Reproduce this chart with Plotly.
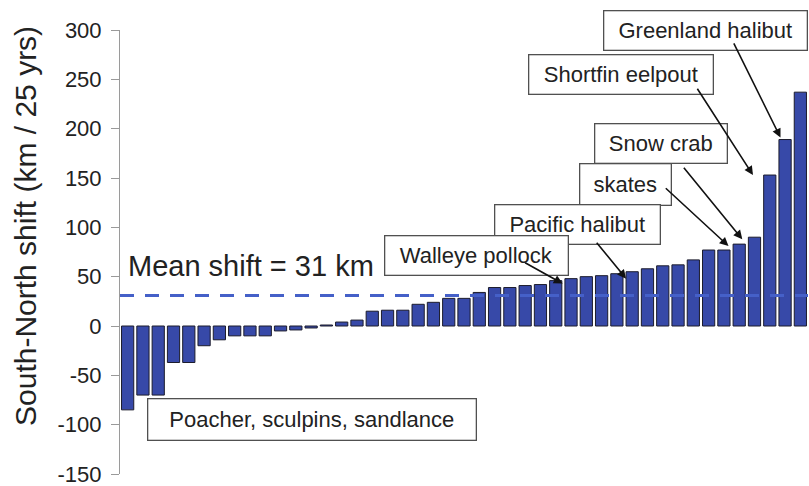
import plotly.graph_objects as go

# South-north shift of each taxon over 25 years (km), sorted ascending
shift_km = [-85, -70, -70, -37, -37, -20, -14, -10, -10, -10, -5, -4, -2, 1, 4,
            6, 15, 16, 16, 22, 24, 28, 28, 34, 39, 39, 41, 42, 46, 48,
            50, 51, 53, 55, 58, 61, 62, 67, 77, 77, 83, 90, 153, 189, 237]
mean_shift = 31
y_ticks = [-150, -100, -50, 0, 50, 100, 150, 200, 250, 300]

FONT = "Liberation Sans, Arial, sans-serif"
TXT = "#222222"

# Plot-area geometry in pixels (used to place the label boxes)
W, H = 809, 486
L, R, T, B = 120, 1, 30, 12
PW, PH = W - L - R, H - T - B


def px_to_paper(px, py):
    return (px - L) / PW, (H - B - py) / PH


n = len(shift_km)
idx = list(range(n))

fig = go.Figure()
fig.add_trace(go.Bar(
    x=idx, y=shift_km, width=0.8,
    marker=dict(color="#3749a8", line=dict(color="#1c1c2c", width=1)),
    hoverinfo="y",
))
fig.add_trace(go.Scatter(
    x=[-0.5, n - 0.5], y=[mean_shift, mean_shift], mode="lines",
    line=dict(color="#4560c8", width=3, dash="14px,11px"),
    hoverinfo="skip",
))

annotations = []

# y-axis title
tx, ty = px_to_paper(25, 226)
annotations.append(dict(
    text="South-North shift (km / 25 yrs)", xref="paper", yref="paper",
    x=tx, y=ty, textangle=-90, showarrow=False, xanchor="center", yanchor="middle",
    font=dict(family=FONT, size=30, color=TXT),
))

# mean-shift caption
mx, my = px_to_paper(126, 266)
annotations.append(dict(
    text=f"Mean shift = {mean_shift} km", xref="paper", yref="paper",
    x=mx, y=my, showarrow=False, xanchor="left", yanchor="middle",
    font=dict(family=FONT, size=29, color=TXT),
))

# boxed labels: (text, centre x, centre y, width, height) in pixels
boxes = [
    ("Greenland halibut", 705, 30, 204, 40),
    ("Shortfin eelpout", 620.5, 75, 185, 40),
    ("Snow crab", 660.5, 143, 133, 40),
    ("skates", 625, 184, 92, 42),
    ("Pacific halibut", 577, 225, 166, 40),
    ("Walleye pollock", 476, 255, 184, 40),
    ("Poacher, sculpins, sandlance", 311.5, 419, 329, 42),
]
for text, cx, cy, bw, bh in boxes:
    bx, by = px_to_paper(cx, cy)
    annotations.append(dict(
        text=text, xref="paper", yref="paper", x=bx, y=by,
        xanchor="center", yanchor="middle", showarrow=False,
        width=bw - 2, height=bh - 2, borderpad=0, borderwidth=1.3,
        bordercolor="#505050", bgcolor="white",
        font=dict(family=FONT, size=22, color=TXT),
    ))

# arrows: (bar index, head x offset, head y offset, tail x, tail y) in data units
arrows = [
    (43, -0.3, 2, 39.6, 288),
    (42, -1.1, 0, 37.2, 242),
    (40, 0.2, 5, 36.3, 162),
    (39, 0.3, 4, 35.1, 141),
    (32, 0.6, -5, 30.6, 86),
    (28, 0.45, -3, 25.9, 65),
]
for bi, dx, dy, ax, ay in arrows:
    annotations.append(dict(
        text="", x=bi + dx, y=shift_km[bi] + dy, xref="x", yref="y",
        ax=ax, ay=ay, axref="x", ayref="y", showarrow=True,
        arrowhead=2, arrowsize=1.1, arrowwidth=1.6, arrowcolor="#111111",
        standoff=0, startstandoff=0,
    ))

fig.update_layout(
    width=W, height=H,
    margin=dict(l=L, r=R, t=T, b=B, autoexpand=False),
    paper_bgcolor="white", plot_bgcolor="white",
    showlegend=False,
    bargap=0.2,
    xaxis=dict(range=[-0.5, n - 0.5], visible=False, fixedrange=True,
               automargin=False),
    yaxis=dict(
        range=[-150, 300], tickvals=y_ticks, ticktext=[str(v) for v in y_ticks],
        showgrid=False, zeroline=False, showline=True, linecolor="#9a9a9a", linewidth=1,
        ticks="outside", ticklen=8, tickcolor="#9a9a9a", ticklabelstandoff=5,
        ticklabeloverflow="allow", automargin=False,
        tickfont=dict(family=FONT, size=22, color=TXT),
    ),
    annotations=annotations,
)

fig.write_html("out.html")
